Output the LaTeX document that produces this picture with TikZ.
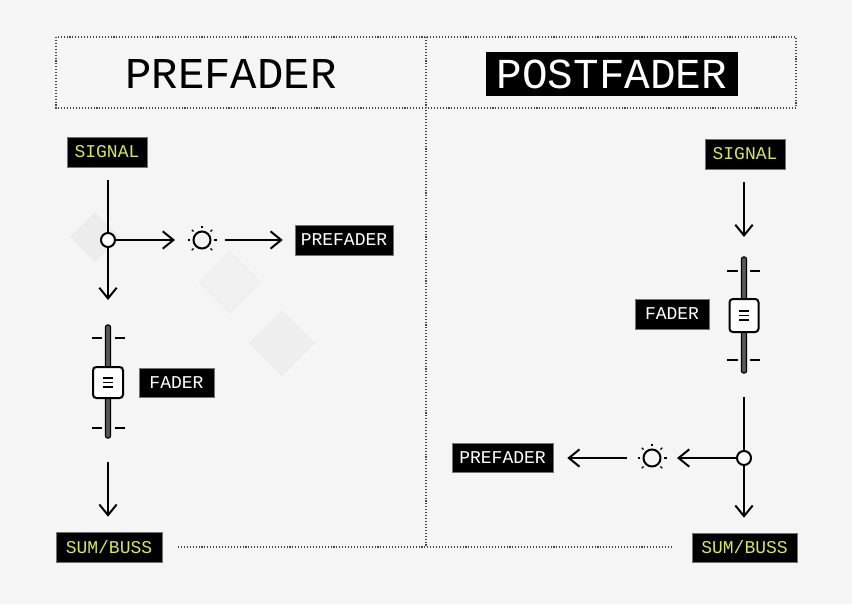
\documentclass[tikz,border=0pt]{standalone}
\usepackage{fontspec}
\newfontfamily\labelfont{Liberation Mono}
\usetikzlibrary{arrows.meta,calc}
\definecolor{bg}{RGB}{245,245,245}
\definecolor{bgdark}{RGB}{236,236,236}
\definecolor{lime}{RGB}{214,228,96}
\definecolor{dotc}{RGB}{70,70,70}
\begin{document}
\begin{tikzpicture}[x=0.75pt,y=-0.75pt,
  lbl/.style={fill=black, draw=black!55, line width=0.4pt, inner sep=0pt, text=white,
    font=\labelfont\fontsize{13.5}{14}\selectfont},
  ylbl/.style={lbl, text=lime},
  wire/.style={line width=1.5pt, black},
  arr/.style={wire, -{Straight Barb[length=8pt,width=13pt]}},
  dotline/.style={line width=0.9pt, dotc, dash pattern=on 0.8pt off 1.4pt},
  splitc/.style={circle, draw=black, fill=white, line width=1.5pt, minimum size=10.5pt, inner sep=0pt},
  knob/.style={circle, draw=black, line width=1.5pt, minimum size=12.75pt, inner sep=0pt},
  handle/.style={draw=black, fill=white, line width=1.5pt, rounded corners=2.5pt, inner sep=0pt},
  tick/.style={line width=1.5pt, black},
  track/.style={draw=black, fill=black!65, line width=0.9pt, rounded corners=1.5pt}
]
% background
\fill[bg] (0,0) rectangle (852,604);
\useasboundingbox (0,0) rectangle (852,604);
\fill[bgdark] (95,212) -- (120,237) -- (95,262) -- (70,237) -- cycle;
\fill[bgdark!60!bg] (230,250) -- (262,282) -- (230,314) -- (198,282) -- cycle;
\fill[bgdark!80!bg] (282,310) -- (315,343) -- (282,376) -- (249,343) -- cycle;

% frame
\draw[dotline] (56,37) rectangle (796,108);
\draw[dotline] (426,37) -- (426,547);
\draw[dotline] (178,547) -- (672,547);

% titles
\node[font=\labelfont\fontsize{33}{33}\selectfont, inner sep=0pt] (tpre) at (231,74) {PREFADER};
\node[lbl, draw=none, font=\labelfont\fontsize{32}{32}\selectfont, minimum width=189pt, minimum height=33pt] (tpost) at (612,74) {POSTFADER};

% ---------- left: prefader ----------
\node[ylbl, minimum width=60pt, minimum height=22.5pt] (lsig) at (107,152) {SIGNAL};
\node[splitc] (lsplit) at (108,240) {};
\coordinate (ldown) at (108,300);
\coordinate (lright) at (175,240);
\node[knob] (lknob) at (202,240) {};
\coordinate (lkout) at (225,240);
\node[lbl, minimum width=73.5pt, minimum height=22.5pt] (lpre) at (344,240) {PREFADER};

\draw[wire, shorten <=9.75pt] (lsig.south -| lsplit) -- (lsplit);
\draw[arr] (lsplit) -- (ldown);
\draw[arr] (lsplit) -- (lright);
\draw[arr, shorten >=9pt] (lkout) -- (lpre);

\foreach \a in {0,45,135,180,225,270,315}
  \draw[line width=1pt] ($(lknob)+(\a:12)$) -- ($(lknob)+(\a:14.5)$);

% left fader
\draw[track] (105.5,325) rectangle (110.5,438);
\draw[tick] (92,338) -- (102,338) (115,338) -- (125,338);
\draw[tick] (92,428) -- (102,428) (115,428) -- (125,428);
\node[handle, minimum width=22.5pt, minimum height=23.25pt] (lfad) at (108,382.5) {};
\draw[line width=1pt] (103,378) -- (113,378) (103,382.5) -- (113,382.5) (103,387) -- (113,387);
\node[lbl, minimum width=56.25pt, minimum height=21.75pt] (lfadl) at (176.5,382.5) {FADER};

\coordinate (lfout) at (108,462);
\node[ylbl, minimum width=79.5pt, minimum height=22.5pt] (lsum) at (109,547) {SUM/BUSS};
\draw[arr, shorten >=11.25pt] (lfout) -- (lfout |- lsum.north);

% ---------- right: postfader ----------
\node[ylbl, minimum width=60pt, minimum height=22.5pt] (rsig) at (745,154) {SIGNAL};
\coordinate (rdown1) at (744,237);
\draw[arr, shorten <=9.75pt] (rsig.south -| rdown1) -- (rdown1);

\draw[track] (741.5,257) rectangle (746.5,373);
\draw[tick] (727,271) -- (738,271) (750,271) -- (760,271);
\draw[tick] (727,360) -- (738,360) (750,360) -- (760,360);
\node[handle, minimum width=21.75pt, minimum height=24.75pt] (rfad) at (744,315.5) {};
\draw[line width=1pt] (739,311) -- (749,311) (739,315.5) -- (749,315.5) (739,320) -- (749,320);
\node[lbl, minimum width=55.5pt, minimum height=22.5pt] (rfadl) at (672,314) {FADER};

\coordinate (rfout) at (744,397);
\node[splitc] (rsplit) at (744,458) {};
\coordinate (rleft) at (677,458);
\node[knob] (rknob) at (652,458) {};
\coordinate (rkout) at (627,458);
\node[lbl, minimum width=75.75pt, minimum height=21.75pt] (rpre) at (502.5,457.5) {PREFADER};
\node[ylbl, minimum width=78.75pt, minimum height=21.75pt] (rsum) at (744.5,547.5) {SUM/BUSS};

\draw[wire] (rfout) -- (rsplit);
\draw[arr, shorten >=11.25pt] (rsplit) -- (rsplit |- rsum.north);
\draw[arr] (rsplit) -- (rleft);
\draw[arr, shorten >=10.5pt] (rkout) -- (rkout -| rpre.east);

\foreach \a in {0,45,135,180,225,270,315}
  \draw[line width=1pt] ($(rknob)+(\a:12)$) -- ($(rknob)+(\a:14.5)$);
\end{tikzpicture}
\end{document}
